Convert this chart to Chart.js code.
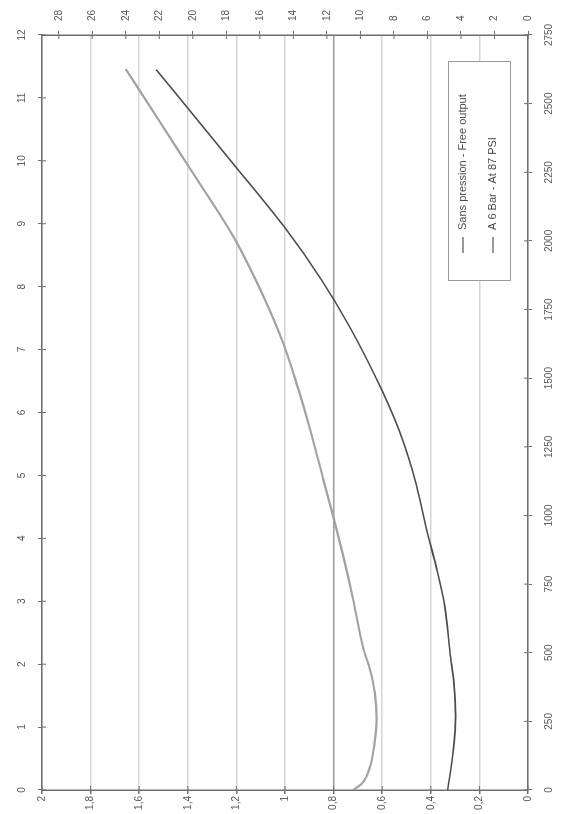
<!DOCTYPE html>
<html>
<head>
<meta charset="utf-8">
<script src="https://cdn.jsdelivr.net/npm/chart.js@4.4.1/dist/chart.umd.min.js"></script>
<style>
  html, body { margin: 0; padding: 0; background: #fff; overflow: hidden; }
  /* the chart is drawn landscape, then turned a quarter turn like the scan */
  #wrap { position: absolute; left: 0; top: 0; width: 814px; height: 576px;
          transform-origin: 0 0; transform: translate(0, 814px) rotate(-90deg); }
</style>
</head>
<body>
<div id="wrap"><canvas id="chart" width="814" height="576"></canvas></div>
<script>
const seriesLabels = ['Sans pression - Free output', 'A 6 Bar - At 87 PSI'];

// "Sans pression" curve (dark)
const freeX = [0, 0.64, 1.17, 1.70, 2.18, 2.91, 3.55, 4.13, 4.93, 5.68, 6.36, 7.37, 8.11, 8.96, 9.94, 10.86, 11.45];
const freeY = [0.33, 0.307, 0.298, 0.305, 0.321, 0.342, 0.378, 0.417, 0.465, 0.527, 0.602, 0.735, 0.850, 1.005, 1.210, 1.405, 1.53];

// "A 6 Bar" curve (light grey)
const sixX = [0, 0.10, 0.37, 0.79, 1.11, 1.54, 1.91, 2.27, 3.02, 3.71, 4.40, 4.93, 5.78, 6.41, 7.10, 7.79, 8.80, 9.96, 10.70, 11.46];
const sixY = [0.72, 0.684, 0.650, 0.630, 0.623, 0.630, 0.650, 0.679, 0.719, 0.760, 0.805, 0.842, 0.900, 0.948, 1.007, 1.082, 1.213, 1.405, 1.528, 1.656];

const topMax = 12, bottomMax = 2750, leftMax = 2, rightMax = 29;

const pts = (xs, ys) => xs.map((x, i) => ({ x: x, y: ys[i] }));
const comma = v => Number(v.toFixed(1)).toString().replace('.', ',');

const edge = '#6e6e6e';
const tickFont = { family: 'Liberation Sans', size: 10 };

// short tick marks on the inner side of each frame edge
const innerTicks = {
  id: 'innerTicks',
  afterDatasetsDraw(chart) {
    const { ctx, chartArea: a, scales } = chart;
    ctx.save();
    ctx.strokeStyle = edge;
    ctx.lineWidth = 1;
    ctx.beginPath();
    scales.x.ticks.forEach(t => { const p = scales.x.getPixelForValue(t.value); ctx.moveTo(p, a.bottom); ctx.lineTo(p, a.bottom - 4); });
    scales.xTop.ticks.forEach(t => { const p = scales.xTop.getPixelForValue(t.value); ctx.moveTo(p, a.top); ctx.lineTo(p, a.top + 4); });
    scales.y.ticks.forEach(t => { const p = scales.y.getPixelForValue(t.value); ctx.moveTo(a.left, p); ctx.lineTo(a.left + 4, p); });
    scales.yR.ticks.forEach(t => { const p = scales.yR.getPixelForValue(t.value); ctx.moveTo(a.right, p); ctx.lineTo(a.right - 4, p); });
    ctx.stroke();
    ctx.restore();
  }
};

// boxed legend sitting inside the plot, bottom right
const boxLegend = {
  id: 'boxLegend',
  afterDraw(chart) {
    const ctx = chart.ctx;
    const x = 533, y = 448, w = 219, h = 62;
    ctx.save();
    ctx.fillStyle = '#fff';
    ctx.fillRect(x, y, w, h);
    ctx.strokeStyle = '#9a9a9a';
    ctx.lineWidth = 1;
    ctx.strokeRect(x + 0.5, y + 0.5, w, h);
    ctx.font = '11px "Liberation Sans"';
    ctx.textBaseline = 'middle';
    chart.data.datasets.forEach((ds, i) => {
      const ry = y + 15 + i * 30;
      ctx.strokeStyle = '#555';
      ctx.lineWidth = 1.2;
      ctx.beginPath();
      ctx.moveTo(x + 28, ry);
      ctx.lineTo(x + 44, ry);
      ctx.stroke();
      ctx.fillStyle = '#4a4a4a';
      ctx.fillText(ds.label, x + 51, ry);
    });
    ctx.restore();
  }
};

new Chart(document.getElementById('chart'), {
  type: 'line',
  data: {
    datasets: [
      {
        label: seriesLabels[0],
        data: pts(freeX, freeY),
        xAxisID: 'xTop',
        yAxisID: 'y',
        borderColor: '#4d4d4d',
        borderWidth: 1.6,
        pointRadius: 0,
        cubicInterpolationMode: 'monotone',
        fill: false
      },
      {
        label: seriesLabels[1],
        data: pts(sixX, sixY),
        xAxisID: 'xTop',
        yAxisID: 'y',
        borderColor: '#a2a2a2',
        borderWidth: 2.2,
        pointRadius: 0,
        cubicInterpolationMode: 'monotone',
        fill: false
      }
    ]
  },
  options: {
    responsive: false,
    animation: false,
    devicePixelRatio: 1,
    layout: { padding: 0 },
    plugins: { legend: { display: false }, tooltip: { enabled: false } },
    scales: {
      x: {
        type: 'linear', position: 'bottom', min: 0, max: bottomMax,
        afterFit: s => { s.height = 48; },
        ticks: { stepSize: 250, maxRotation: 0, minRotation: 0, autoSkip: false, padding: 11, color: '#555', font: tickFont, callback: v => String(v) },
        grid: { drawOnChartArea: false, tickLength: 4, tickColor: edge },
        border: { color: edge, width: 1.5 }
      },
      xTop: {
        type: 'linear', position: 'top', min: 0, max: topMax,
        afterFit: s => { s.height = 42; },
        ticks: { stepSize: 1, maxRotation: 0, minRotation: 0, autoSkip: false, padding: 10, color: '#555', font: tickFont },
        grid: { drawOnChartArea: false, tickLength: 4, tickColor: edge },
        border: { color: edge, width: 1.5 }
      },
      y: {
        type: 'linear', position: 'left', min: 0, max: leftMax,
        afterFit: s => { s.width = 24; },
        ticks: { stepSize: 0.2, autoSkip: false, padding: 2, color: '#555', font: tickFont, callback: v => comma(v) },
        grid: {
          tickLength: 4, tickColor: edge, lineWidth: 1.5,
          color: c => Math.abs(c.tick.value - 0.8) < 1e-6 ? '#9c9c9c' : '#d6d6d6'
        },
        border: { color: edge, width: 1.5 }
      },
      yR: {
        type: 'linear', position: 'right', min: 0, max: rightMax,
        afterFit: s => { s.width = 35; },
        ticks: { stepSize: 2, includeBounds: false, autoSkip: false, padding: 10, color: '#555', font: tickFont },
        grid: { drawOnChartArea: false, tickLength: 4, tickColor: edge },
        border: { color: edge, width: 1.5 }
      }
    }
  },
  plugins: [innerTicks, boxLegend]
});
</script>
</body>
</html>
